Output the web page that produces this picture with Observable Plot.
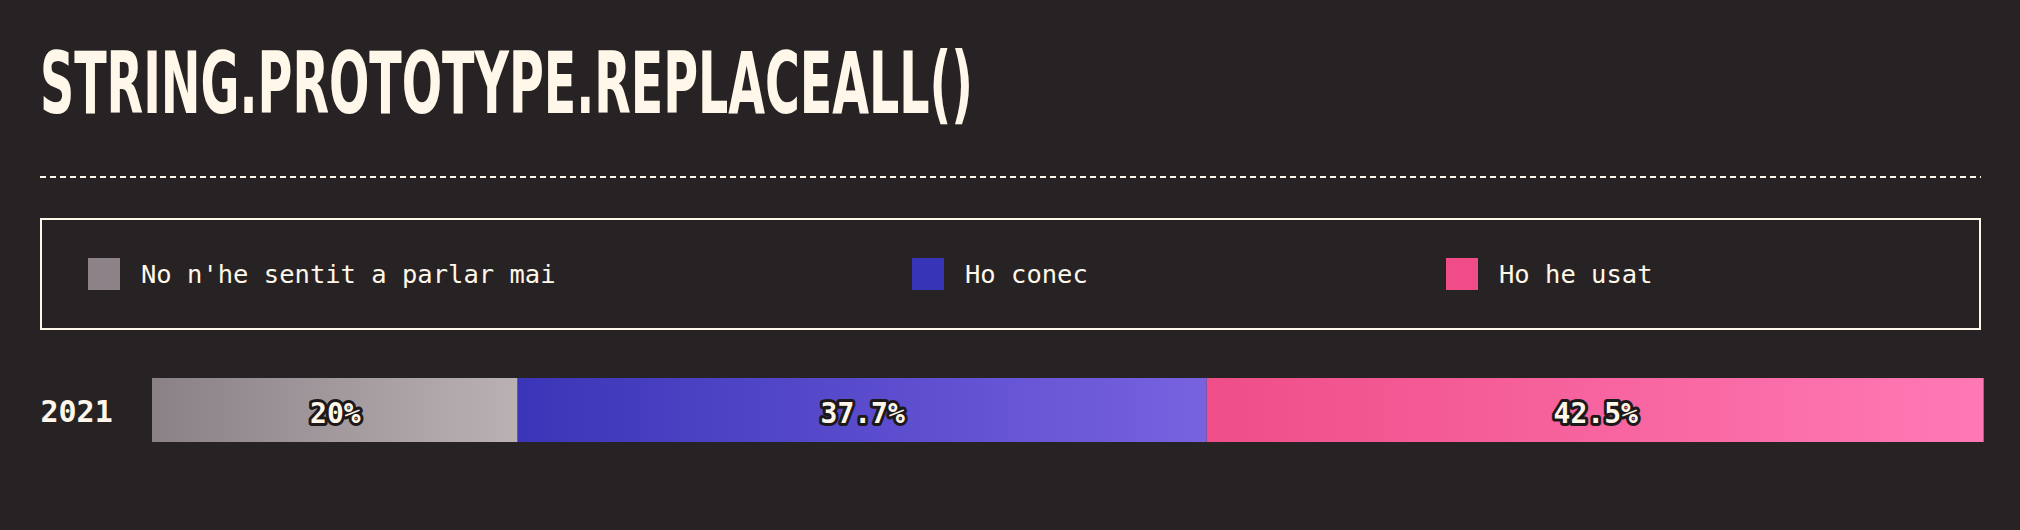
<!DOCTYPE html>
<html>
<head>
  <meta charset="utf-8">
  <!-- load d3 and plot -->
  <script src="https://cdn.jsdelivr.net/npm/d3@7"></script>
  <script src="https://cdn.jsdelivr.net/npm/@observablehq/plot@0.6"></script>
  <style>
    body { margin: 0; background: #272324; width: 2020px; height: 530px; overflow: hidden; position: relative; }
    #title {
      position: absolute; left: 40px; top: 40px;
      font-family: "Liberation Sans Narrow", "DejaVu Sans Condensed", "Liberation Sans", sans-serif;
      font-weight: bold; font-size: 86px; line-height: 86px; color: #fff7e9;
      white-space: nowrap; transform-origin: left top;
    }
    #rule {
      position: absolute; left: 40px; top: 176px; width: 1941px; height: 2px;
      background: repeating-linear-gradient(to right, #fff7e9 0 6px, transparent 6px 10px);
    }
    #legend {
      position: absolute; left: 40px; top: 218px; width: 1937px; height: 108px;
      border: 2px solid #fff7e9;
    }
    .item {
      position: absolute; top: 38px; height: 32px; display: flex; align-items: center;
      font-family: "DejaVu Sans Mono", "Liberation Mono", monospace; font-size: 25.5px; color: #fff7e9;
      white-space: nowrap;
    }
    .item span.sw { width: 32px; height: 32px; margin-right: 21px; display: inline-block; }
    #chart { position: absolute; left: 0; top: 330px; }
  </style>
</head>
<body>
  <div id="title">STRING.PROTOTYPE.REPLACEALL()</div>
  <div id="rule"></div>
  <div id="legend"></div>
  <div id="chart"></div>
  <script>
    // data
    const years = ["2021"];
    const categories = ["No n'he sentit a parlar mai", "Ho conec", "Ho he usat"];
    const values = [20, 37.7, 42.5];
    const labels = ["20%", "37.7%", "42.5%"];
    const swatches = ["#8c8288", "#3734b8", "#ef4c88"];
    const gradients = [["#8a8187", "#bab1b4"], ["#3a35b8", "#7862e0"], ["#ef4e88", "#ff79b5"]];
    const legendLeft = [46, 870, 1404];

    // squeeze the title to the width of the original
    const title = document.getElementById("title");
    title.style.transform = `scaleX(${933 / title.getBoundingClientRect().width})`;

    // legend
    const legend = document.getElementById("legend");
    categories.forEach((c, i) => {
      const el = document.createElement("div");
      el.className = "item";
      el.style.left = legendLeft[i] + "px";
      el.innerHTML = `<span class="sw" style="background:${swatches[i]}"></span>`;
      el.appendChild(document.createTextNode(c));
      legend.appendChild(el);
    });

    // rows for the stacked bar
    const rows = categories.map((c, i) => ({
      year: years[0], cat: c, value: values[i], label: labels[i], grad: `url(#grad${i})`
    }));

    // gradient definitions
    const defs = () => {
      const d = d3.create("svg:defs");
      gradients.forEach((g, i) => {
        const lg = d.append("linearGradient").attr("id", "grad" + i).attr("x1", 0).attr("x2", 1).attr("y1", 0).attr("y2", 0);
        lg.append("stop").attr("offset", "0%").attr("stop-color", g[0]);
        lg.append("stop").attr("offset", "100%").attr("stop-color", g[1]);
      });
      return d.node();
    };

    const chart = Plot.plot({
      width: 2020,
      height: 200,
      marginLeft: 152,
      marginRight: 40,
      marginTop: 48,
      marginBottom: 88,
      style: { background: "transparent", color: "#fff7e9" },
      x: { domain: [0, 100], axis: null },
      y: { domain: years, axis: null, padding: 0 },
      color: { type: "identity" },
      marks: [
        defs,
        Plot.barX(rows, Plot.stackX({ x: "value", y: "year", fill: "grad" })),
        Plot.text(rows, Plot.stackX({
          x: "value", y: "year", text: "label",
          fill: "#fff7e9", stroke: "#1d191a", strokeWidth: 6, paintOrder: "stroke",
          fontWeight: "bold", fontSize: 28, fontFamily: "DejaVu Sans Mono", dy: 4
        })),
        Plot.text(years, {
          y: d => d, text: d => d, frameAnchor: "left", dx: -112, textAnchor: "start",
          fill: "#fff7e9", fontWeight: "bold", fontSize: 30, fontFamily: "DejaVu Sans Mono", dy: 2
        })
      ]
    });

    document.getElementById("chart").appendChild(chart);
  </script>
</body>
</html>
